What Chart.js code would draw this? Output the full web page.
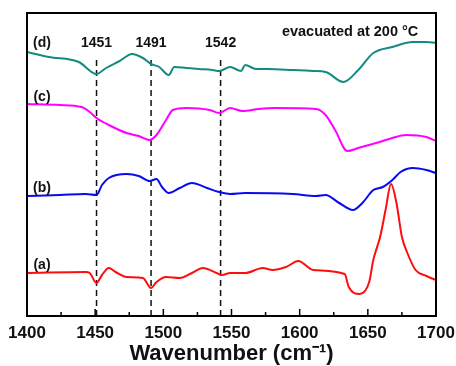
<!DOCTYPE html>
<html>
<head>
<meta charset="utf-8">
<script src="https://cdn.jsdelivr.net/npm/chart.js@4"></script>
<style>
  html, body { margin: 0; padding: 0; background: #fff; overflow: hidden; }
  canvas { display: block; }
</style>
</head>
<body>
<canvas id="chart" width="456" height="366"></canvas>
<script>
// Spectra (wavenumber, intensity in arbitrary offset units)
const waveD = [1400,1416,1438,1451,1458,1468,1477,1485,1491,1497,1504,1508,1517,1526,1536,1541,1549,1557,1560,1568,1577,1595,1610,1619,1632,1643,1654,1668,1683,1693,1700];
const absD  = [2.64,2.59,2.54,2.42,2.48,2.55,2.62,2.58,2.52,2.49,2.41,2.49,2.48,2.47,2.46,2.45,2.49,2.45,2.51,2.47,2.47,2.46,2.45,2.44,2.34,2.46,2.63,2.69,2.74,2.74,2.73];

const waveC = [1400,1424,1440,1446,1451,1460,1473,1482,1490,1495,1502,1507,1517,1534,1541,1549,1558,1570,1582,1612,1619,1626,1635,1643,1656,1668,1678,1693,1700];
const absC  = [2.12,2.11,2.09,2.04,1.98,1.91,1.83,1.80,1.76,1.81,1.96,2.06,2.08,2.06,2.03,2.08,2.05,2.07,2.08,2.07,2.01,1.86,1.65,1.68,1.73,1.78,1.81,1.79,1.75];

const waveB = [1400,1424,1443,1451,1455,1460,1473,1482,1490,1495,1499,1504,1512,1521,1532,1541,1549,1560,1595,1612,1619,1629,1639,1646,1654,1661,1668,1674,1683,1693,1700];
const absB  = [1.20,1.21,1.22,1.21,1.31,1.38,1.42,1.40,1.35,1.37,1.29,1.23,1.28,1.33,1.28,1.24,1.22,1.23,1.22,1.20,1.21,1.13,1.06,1.13,1.26,1.29,1.36,1.44,1.48,1.46,1.43];

const waveA = [1400,1443,1446,1451,1455,1460,1465,1473,1485,1491,1495,1502,1512,1521,1529,1539,1543,1549,1560,1573,1580,1590,1599,1610,1633,1636,1644,1651,1654,1659,1663,1667,1671,1675,1679,1685,1693,1700];
const absA  = [0.43,0.44,0.43,0.33,0.41,0.48,0.44,0.39,0.38,0.28,0.34,0.39,0.38,0.43,0.48,0.43,0.41,0.43,0.43,0.48,0.46,0.49,0.55,0.46,0.42,0.29,0.22,0.34,0.56,0.79,1.06,1.32,1.13,0.79,0.63,0.46,0.40,0.36];

const peakLines = [1451, 1491, 1542];
const peakLineRange = [0, 2.58];
const curveLabels = ['(d)', '(c)', '(b)', '(a)'];
const curveLabelY = [2.73, 2.19, 1.28, 0.51];
const xTicks = [1400, 1450, 1500, 1550, 1600, 1650, 1700];

function pts(xs, ys) {
  return xs.map((x, i) => ({ x: x, y: ys[i] }));
}

const series = [
  { data: pts(waveD, absD), color: '#158a80' },
  { data: pts(waveC, absC), color: '#ff00ff' },
  { data: pts(waveB, absB), color: '#0a0aee' },
  { data: pts(waveA, absA), color: '#ff0d0d' }
];

const datasets = series.map(s => ({
  data: s.data,
  borderColor: s.color,
  borderWidth: 2,
  pointRadius: 0,
  showLine: true,
  tension: 0.35,
  cubicInterpolationMode: 'monotone'
}));

peakLines.forEach(w => {
  datasets.push({
    data: peakLineRange.map(y => ({ x: w, y: y })),
    borderColor: '#111',
    borderWidth: 1.5,
    borderDash: [6, 4],
    pointRadius: 0,
    showLine: true
  });
});

const FONT = "Arial, 'Liberation Sans', sans-serif";

// frame, inside ticks and text labels
const decor = {
  id: 'decor',
  afterDraw(chart) {
    const ctx = chart.ctx;
    const a = chart.chartArea;
    const xs = chart.scales.x, ys = chart.scales.y;
    ctx.save();
    ctx.strokeStyle = '#000';
    ctx.lineWidth = 2;
    ctx.strokeRect(a.left, a.top, a.right - a.left, a.bottom - a.top);

    ctx.lineWidth = 1.5;
    for (let w = 1400; w <= 1700; w += 25) {
      const px = xs.getPixelForValue(w);
      const len = (w % 50 === 0) ? 7 : 4;
      ctx.beginPath();
      ctx.moveTo(px, a.bottom);
      ctx.lineTo(px, a.bottom - len);
      ctx.stroke();
    }

    ctx.fillStyle = '#111';
    ctx.font = 'bold 14px ' + FONT;
    ctx.textAlign = 'center';
    ctx.textBaseline = 'middle';
    peakLines.forEach(w => {
      ctx.fillText(String(w), xs.getPixelForValue(w), ys.getPixelForValue(2.73));
    });
    curveLabels.forEach((t, i) => {
      ctx.fillText(t, xs.getPixelForValue(1411), ys.getPixelForValue(curveLabelY[i]));
    });
    ctx.font = 'bold 14.5px ' + FONT;
    ctx.fillText('evacuated at 200 \u00B0C', xs.getPixelForValue(1637), ys.getPixelForValue(2.84));
    ctx.restore();
  }
};

new Chart(document.getElementById('chart'), {
  type: 'scatter',
  data: { datasets: datasets },
  options: {
    responsive: false,
    animation: false,
    layout: { padding: { left: 27, right: 20, top: 13, bottom: 0 } },
    plugins: { legend: { display: false }, tooltip: { enabled: false } },
    scales: {
      x: {
        type: 'linear',
        min: 1400,
        max: 1700,
        afterBuildTicks: axis => { axis.ticks = xTicks.map(v => ({ value: v })); },
        grid: { display: false, drawTicks: true, tickLength: 9 },
        border: { display: false },
        ticks: {
          color: '#111',
          padding: 0,
          maxRotation: 0,
          callback: v => String(v),
          font: { family: FONT, size: 17, weight: 'bold', lineHeight: 1 }
        },
        title: {
          display: true,
          text: 'Wavenumber (cm\u207B\u00B9)',
          color: '#111',
          padding: { top: 1, bottom: 1 },
          font: { family: FONT, size: 22, weight: 'bold', lineHeight: 1 }
        }
      },
      y: {
        display: false,
        min: 0,
        max: 3.03
      }
    }
  },
  plugins: [decor]
});
</script>
</body>
</html>
